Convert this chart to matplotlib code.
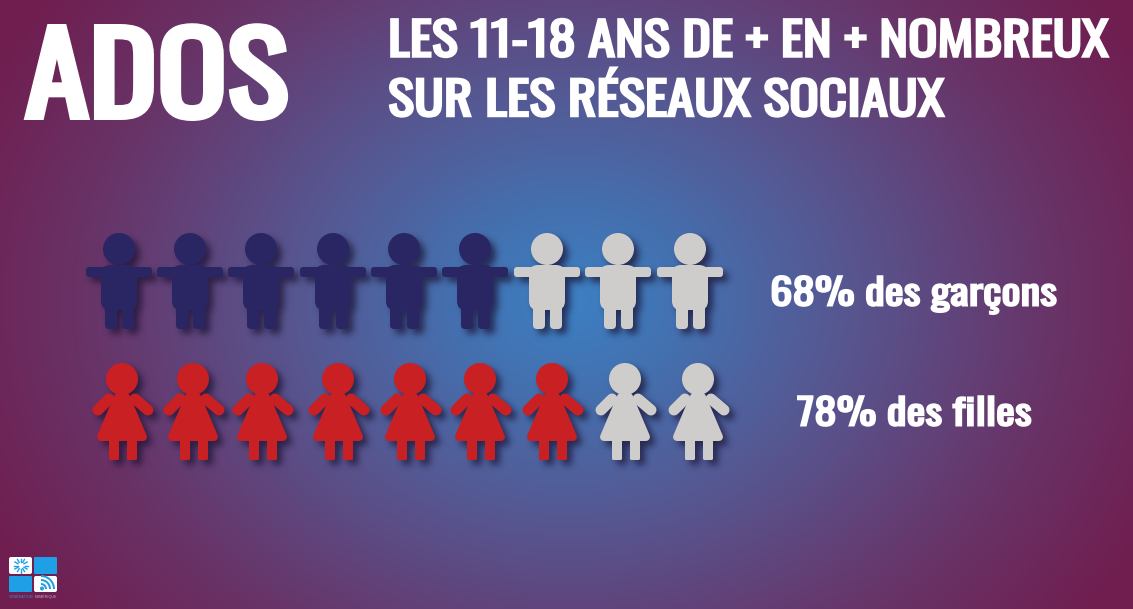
#!/usr/bin/env python3
import numpy as np
import matplotlib
matplotlib.use("Agg")
import matplotlib.pyplot as plt
from matplotlib.patches import Circle, FancyBboxPatch, Polygon, Wedge
from matplotlib.patheffects import AbstractPathEffect
from matplotlib.transforms import Affine2D

# valeurs
categories = ["68% des garçons", "78% des filles"]
filled_counts = [6, 7]
boy_centers = [119, 190, 261, 333, 404, 475, 547, 618, 690]
girl_centers = [122, 193, 262, 338, 410, 480, 552, 625, 698]

BOY = "#2a2663"
GIRL = "#c92023"
EMPTY = "#cfcdcb"
CONDENSED = ["Oswald", "Liberation Sans", "DejaVu Sans"]

W, H = 1133, 609


class HeavyText(AbstractPathEffect):
    # Oswald n'est dispo qu'en regular ici : on elargit et on epaissit le trace
    def __init__(self, stretch, stroke_px):
        super().__init__()
        self.stretch = stretch
        self.stroke_px = stroke_px

    def draw_path(self, renderer, gc, tpath, affine, rgbFace=None):
        gc0 = renderer.new_gc()
        gc0.copy_properties(gc)
        gc0.set_foreground("white")
        gc0.set_linewidth(self.stroke_px * 0.72)
        gc0.set_joinstyle("miter")
        renderer.draw_path(gc0, tpath, Affine2D().scale(self.stretch, 1) + affine, rgbFace)
        gc0.restore()


def background(ax):
    yy, xx = np.mgrid[0:H, 0:W]
    r = np.sqrt(((xx - 570) / 640.0) ** 2 + ((yy - 300) / 520.0) ** 2)
    r = np.clip(r, 0, 1)
    stops = [0.0, 0.18, 0.45, 0.75, 1.0]
    colors = np.array([
        [60, 128, 195],
        [68, 112, 175],
        [88, 84, 142],
        [104, 52, 104],
        [112, 30, 80],
    ])
    img = np.dstack([np.interp(r, stops, colors[:, i]) for i in range(3)]) / 255.0
    ax.imshow(img, extent=(0, W, H, 0), aspect="auto", zorder=0, interpolation="bilinear")


def rbox(x0, y0, x1, y1, rad):
    return FancyBboxPatch(
        (x0 + rad, y0 + rad), x1 - x0 - 2 * rad, y1 - y0 - 2 * rad,
        boxstyle=f"round,pad={rad},rounding_size={rad}",
    )


def boy_parts(cx):
    return [
        Circle((cx, 249), 16),
        rbox(cx - 33, 267, cx + 33, 277, 3),
        rbox(cx - 18, 265, cx + 18, 310, 9),
        rbox(cx - 14, 300, cx - 2, 329, 4),
        rbox(cx + 3, 300, cx + 15, 329, 4),
    ]


def girl_parts(cx):
    return [
        Circle((cx, 379), 16),
        Polygon([(cx - 13, 399), (cx - 24, 410)], closed=False),
        Polygon([(cx + 13, 399), (cx + 26, 410)], closed=False),
        Polygon([(cx - 4, 397), (cx + 4, 397), (cx + 21, 437), (cx - 21, 437)], closed=True),
        rbox(cx - 13, 432, cx - 3, 460, 1.5),
        rbox(cx + 5, 432, cx + 15, 460, 1.5),
    ]


def style_part(part, color):
    if isinstance(part, Polygon):
        if part.get_closed():
            part.set(facecolor=color, edgecolor=color, linewidth=8 * 0.72, joinstyle="round")
        else:
            part.set(facecolor="none", edgecolor=color, linewidth=11 * 0.72, capstyle="round")
    else:
        part.set(facecolor=color, edgecolor=color, linewidth=0)


def draw_icon(ax, maker, cx, color, zorder=3):
    for part in maker(cx):
        style_part(part, color)
        part.set_zorder(zorder)
        ax.add_patch(part)


def blurred_shadow():
    # masque des silhouettes, rendu a part puis flou gaussien
    fig = plt.figure(figsize=(W / 100, H / 100), dpi=100)
    ax = fig.add_axes([0, 0, 1, 1])
    ax.set_xlim(0, W)
    ax.set_ylim(H, 0)
    ax.axis("off")
    for cx in boy_centers:
        draw_icon(ax, boy_parts, cx, "black")
    for cx in girl_centers:
        draw_icon(ax, girl_parts, cx, "black")
    fig.canvas.draw()
    mask = 1.0 - np.asarray(fig.canvas.buffer_rgba())[:, :, 0] / 255.0
    plt.close(fig)

    t = np.arange(-9, 10)
    kernel = np.exp(-t ** 2 / (2 * 3.5 ** 2))
    kernel /= kernel.sum()
    mask = np.apply_along_axis(lambda v: np.convolve(v, kernel, mode="same"), 0, mask)
    mask = np.apply_along_axis(lambda v: np.convolve(v, kernel, mode="same"), 1, mask)
    mask = np.roll(mask, (5, 5), axis=(0, 1))
    rgba = np.zeros((H, W, 4))
    rgba[:, :, 0:3] = np.array([24, 16, 48]) / 255.0
    rgba[:, :, 3] = mask * 0.7
    return rgba


def draw_logo(ax):
    blue = "#1e9fe6"
    ax.add_patch(FancyBboxPatch((9, 557), 23, 17, boxstyle="round,pad=0,rounding_size=2", fc="white", ec="none", zorder=3))
    ax.add_patch(FancyBboxPatch((34, 557), 23, 17, boxstyle="round,pad=0,rounding_size=1", fc=blue, ec="none", zorder=3))
    ax.add_patch(FancyBboxPatch((9, 576), 23, 16, boxstyle="round,pad=0,rounding_size=1", fc=blue, ec="none", zorder=3))
    ax.add_patch(FancyBboxPatch((34, 576), 23, 16, boxstyle="round,pad=0,rounding_size=2", fc="white", ec="none", zorder=3))
    for ang in np.arange(0, 360, 30):
        a = np.deg2rad(ang)
        ax.plot([21 + 3.5 * np.cos(a), 21 + 7 * np.cos(a)], [565.5 + 3.5 * np.sin(a), 565.5 + 7 * np.sin(a)],
                color=blue, lw=1.0, zorder=4)
    ax.add_patch(Circle((42, 588.5), 2, fc=blue, ec="none", zorder=4))
    for rad in [6, 10, 14]:
        ax.add_patch(Wedge((41, 589), rad, 270, 360, width=2, fc=blue, ec="none", zorder=4))
    ax.text(9, 597, "GÉNÉRATION", color="#3d8bd0", fontsize=2.7,
            ha="left", va="center", family="Liberation Sans", zorder=4)
    ax.text(35, 597, "NUMÉRIQUE", color="#b9b6cc", fontsize=2.7,
            ha="left", va="center", family="Liberation Sans", zorder=4)


def heavy_text(ax, x, y, s, size, stretch, stroke_px):
    txt = ax.text(x, y, s, color="white", fontsize=size, ha="left", va="baseline",
                  family=CONDENSED, zorder=5)
    txt.set_path_effects([HeavyText(stretch, stroke_px)])


def main():
    fig = plt.figure(figsize=(W / 100, H / 100), dpi=100)
    ax = fig.add_axes([0, 0, 1, 1])
    background(ax)
    ax.imshow(blurred_shadow(), extent=(0, W, H, 0), aspect="auto", zorder=1)
    ax.set_xlim(0, W)
    ax.set_ylim(H, 0)
    ax.axis("off")

    heavy_text(ax, 25, 117, "ADOS", 80, 1.167, 6)
    heavy_text(ax, 388, 56.5, "LES 11-18 ANS DE + EN + NOMBREUX", 33, 1.19, 2.5)
    heavy_text(ax, 388, 116, "SUR LES RÉSEAUX SOCIAUX", 33, 1.2, 2.5)

    for i, cx in enumerate(boy_centers):
        draw_icon(ax, boy_parts, cx, BOY if i < filled_counts[0] else EMPTY)
    for i, cx in enumerate(girl_centers):
        draw_icon(ax, girl_parts, cx, GIRL if i < filled_counts[1] else EMPTY)

    heavy_text(ax, 770, 305.5, categories[0], 26, 1.24, 2)
    heavy_text(ax, 797, 425.5, categories[1], 26, 1.24, 2)

    draw_logo(ax)
    fig.savefig("out.png", dpi=100)
    plt.close(fig)


if __name__ == "__main__":
    main()
